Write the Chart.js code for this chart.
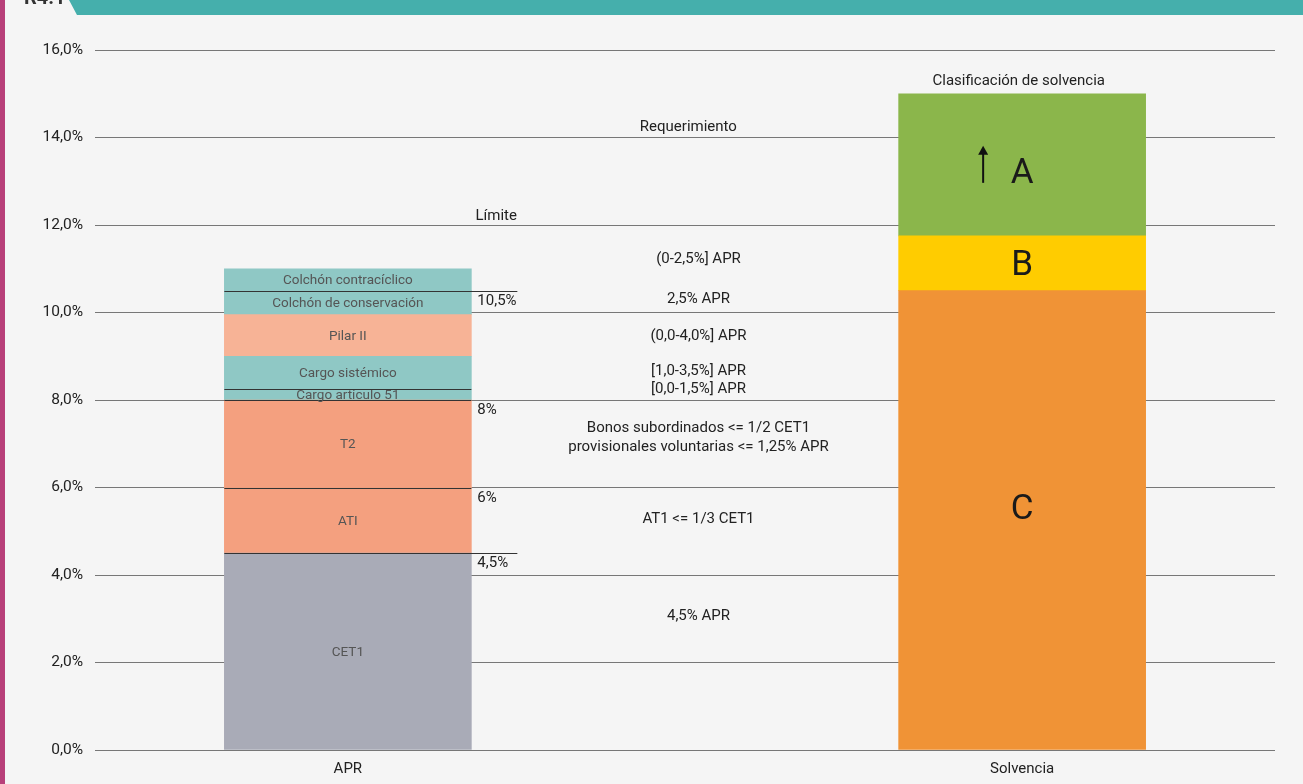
<!DOCTYPE html>
<html lang="es">
<head>
    <meta charset="UTF-8">
    <title>R4.1 Requerimientos de capital y clasificación de solvencia</title>
    <script src="https://cdn.jsdelivr.net/npm/chart.js"></script>
    <style>
        html, body { margin: 0; padding: 0; background: #f5f5f5; }
        .lienzo { position: absolute; left: 0; top: 0; width: 1303px; height: 784px; overflow: hidden; }
        .franja { position: absolute; left: 0; top: 0; width: 5px; height: 784px; background: #b8407a; }
        .banda { position: absolute; left: 69px; top: 0; right: 0; height: 15px; background: #45afac;
                 clip-path: polygon(0 0, 100% 0, 100% 100%, 8px 100%); }
        .codigo { position: absolute; left: 24px; top: -15px; font: bold 20px Roboto, sans-serif; color: #333; }
        .grafico { position: absolute; left: 0; top: 0; width: 1303px; height: 784px; }
    </style>
</head>
<body>
<div class="lienzo">
    <div class="grafico"><canvas id="capital"></canvas></div>
    <div class="franja"></div>
    <div class="banda"></div>
    <div class="codigo">R4.1</div>
</div>

<script>
    // Datos del gráfico
    const categorias = ['', 'APR', '', '', '', 'Solvencia', ''];
    const tramosAPR = ['CET1', 'ATI', 'T2', 'Cargo artículo 51', 'Cargo sistémico', 'Pilar II',
                       'Colchón de conservación', 'Colchón contracíclico'];
    const valoresAPR = [4.5, 1.5, 2.0, 0.25, 0.75, 0.95, 0.55, 0.5];
    const tramosSolvencia = ['C', 'B', 'A'];
    const valoresSolvencia = [10.5, 1.25, 3.25];
    const ticksY = [0, 2, 4, 6, 8, 10, 12, 14, 16];
    // marcas de porcentaje sobre los tramos (índice del tramo, texto)
    const marcasTramo = [0, 1, 2, 6];
    const marcasTexto = ['4,5%', '6%', '8%', '10,5%'];

    // Estilos
    const coloresAPR = ['#a9abb7', '#f4a07f', '#f4a07f', '#8fc8c5', '#8fc8c5', '#f7b396', '#8fc8c5', '#8fc8c5'];
    const coloresSolvencia = ['#f09336', '#ffcc00', '#8bb64b'];
    const conLinea = [0, 1, 2, 3, 6];      // tramos con línea negra arriba
    const lineaLarga = [0, 6];             // líneas que salen de la barra

    // Notas del centro: [texto, posición de categoría, valor en eje y]
    const notas = [
        ['Clasificación de solvencia', 4.98, 15.29],
        ['Requerimiento', 3.02, 14.24],
        ['Límite', 1.88, 12.21],
        ['(0-2,5%] APR', 3.08, 11.22],
        ['2,5% APR', 3.08, 10.31],
        ['(0,0-4,0%] APR', 3.08, 9.46],
        ['[1,0-3,5%] APR', 3.08, 8.66],
        ['[0,0-1,5%] APR', 3.08, 8.25],
        ['Bonos subordinados <= 1/2 CET1', 3.08, 7.36],
        ['provisionales voluntarias <= 1,25% APR', 3.08, 6.93],
        ['AT1 <= 1/3 CET1', 3.08, 5.28],
        ['4,5% APR', 3.08, 3.06]
    ];

    Chart.defaults.font.family = 'Roboto, sans-serif';
    Chart.defaults.color = '#222';

    const datasets = [];
    tramosAPR.forEach((nombre, i) => {
        datasets.push({
            label: nombre,
            grupo: 'APR',
            tramo: i,
            data: categorias.map(c => c === 'APR' ? valoresAPR[i] : null),
            backgroundColor: coloresAPR[i],
            barThickness: 247,
            borderWidth: 0
        });
    });
    tramosSolvencia.forEach((nombre, i) => {
        datasets.push({
            label: nombre,
            grupo: 'Solvencia',
            tramo: i,
            data: categorias.map(c => c === 'Solvencia' ? valoresSolvencia[i] : null),
            backgroundColor: coloresSolvencia[i],
            barThickness: 247,
            borderWidth: 0
        });
    });

    // Plugin para textos, líneas y flecha
    const etiquetas = {
        id: 'etiquetas',
        afterDatasetsDraw(chart) {
            const ctx = chart.ctx;
            ctx.save();
            chart.data.datasets.forEach((ds, i) => {
                const meta = chart.getDatasetMeta(i);
                meta.data.forEach((bar, j) => {
                    if (ds.data[j] == null) return;
                    const p = bar.getProps(['x', 'y', 'base', 'width'], true);
                    const izq = p.x - p.width / 2, der = p.x + p.width / 2;
                    const centro = (p.y + p.base) / 2;
                    if (ds.grupo === 'APR') {
                        ctx.fillStyle = '#555';
                        ctx.font = '13.5px Roboto, sans-serif';
                        ctx.textAlign = 'center';
                        ctx.textBaseline = 'middle';
                        ctx.fillText(ds.label, p.x, centro + 1);
                        if (conLinea.includes(ds.tramo)) {
                            const largo = lineaLarga.includes(ds.tramo) ? 46 : 0;
                            ctx.strokeStyle = '#333';
                            ctx.lineWidth = 1;
                            ctx.beginPath();
                            ctx.moveTo(izq, Math.round(p.y) + 0.5);
                            ctx.lineTo(der + largo, Math.round(p.y) + 0.5);
                            ctx.stroke();
                        }
                        const k = marcasTramo.indexOf(ds.tramo);
                        if (k >= 0) {
                            ctx.fillStyle = '#222';
                            ctx.font = '15px Roboto, sans-serif';
                            ctx.textAlign = 'left';
                            ctx.textBaseline = 'top';
                            ctx.fillText(marcasTexto[k], der + 6, p.y + 3);
                        }
                    } else {
                        ctx.fillStyle = '#1a1a1a';
                        ctx.font = '35px Roboto, sans-serif';
                        ctx.textAlign = 'center';
                        ctx.textBaseline = 'middle';
                        const dy = ds.label === 'A' ? 9 : (ds.label === 'C' ? -10 : 3);
                        ctx.fillText(ds.label, p.x, centro + dy);
                        if (ds.label === 'A') {
                            const ax = p.x - 39;
                            ctx.strokeStyle = '#111';
                            ctx.fillStyle = '#111';
                            ctx.lineWidth = 2;
                            ctx.beginPath();
                            ctx.moveTo(ax, centro + 18);
                            ctx.lineTo(ax, centro - 12);
                            ctx.stroke();
                            ctx.beginPath();
                            ctx.moveTo(ax - 5, centro - 10);
                            ctx.lineTo(ax, centro - 19);
                            ctx.lineTo(ax + 5, centro - 10);
                            ctx.closePath();
                            ctx.fill();
                        }
                    }
                });
            });
            // notas centrales
            const x = chart.scales.x, y = chart.scales.y;
            ctx.fillStyle = '#222';
            ctx.font = '15px Roboto, sans-serif';
            ctx.textAlign = 'center';
            ctx.textBaseline = 'middle';
            notas.forEach(n => {
                ctx.fillText(n[0], x.getPixelForValue(n[1]), y.getPixelForValue(n[2]));
            });
            ctx.restore();
        }
    };

    new Chart(document.getElementById('capital'), {
        type: 'bar',
        data: { labels: categorias, datasets: datasets },
        options: {
            responsive: true,
            maintainAspectRatio: false,
            animation: false,
            layout: { padding: { left: 5, right: 28, top: 50, bottom: 8 } },
            plugins: {
                legend: { display: false },
                tooltip: { enabled: false }
            },
            scales: {
                x: {
                    stacked: true,
                    afterFit(scale) { scale.height = 26; },
                    grid: { display: false, drawTicks: false },
                    border: { display: false },
                    ticks: { padding: 10, font: { size: 15 }, color: '#222', autoSkip: false, maxRotation: 0 }
                },
                y: {
                    stacked: true,
                    min: ticksY[0],
                    max: ticksY[ticksY.length - 1],
                    afterFit(scale) { scale.width = 90; },
                    afterBuildTicks(scale) { scale.ticks = ticksY.map(v => ({ value: v })); },
                    grid: { color: '#777', lineWidth: 1, drawTicks: false },
                    border: { display: false },
                    ticks: {
                        padding: 12,
                        font: { size: 15.5 },
                        color: '#222',
                        callback: v => v.toFixed(1).replace('.', ',') + '%'
                    }
                }
            }
        },
        plugins: [etiquetas]
    });
</script>
</body>
</html>
